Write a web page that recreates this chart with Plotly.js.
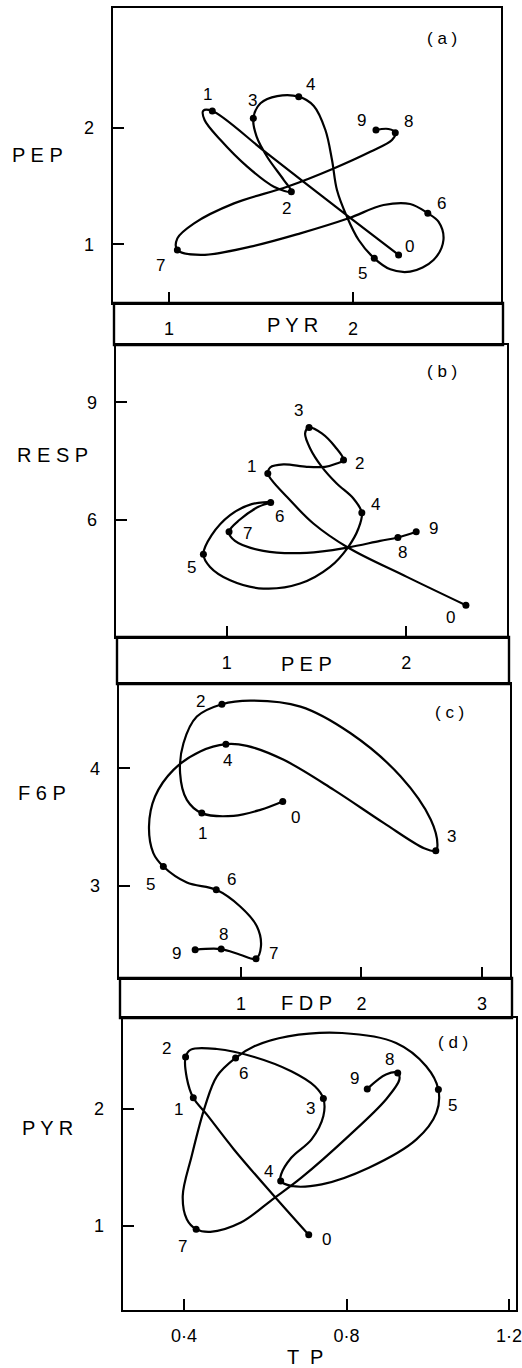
<!DOCTYPE html>
<html>
<head>
<meta charset="utf-8">
<script src="https://cdn.plot.ly/plotly-3.0.1.min.js"></script>
<style>
  html, body { margin: 0; padding: 0; background: #fff; }
  #chart { width: 522px; height: 1368px; }
</style>
</head>
<body>
<div id="chart"></div>
<script>
// Phase plots (a)-(d): labelled time points 0..9 joined by a hand-drawn curve

const pointLabels = ['0', '1', '2', '3', '4', '5', '6', '7', '8', '9'];

// (a) PEP against PYR
const aPtX = [2.248, 1.235, 1.665, 1.458, 1.705, 2.116, 2.407, 1.045, 2.230, 2.125];
const aPtY = [0.909, 2.143, 1.451, 2.080, 2.266, 0.880, 1.266, 0.951, 1.957, 1.980];
const aPathX = [2.248, 1.976, 1.533, 1.235, 1.186, 1.193, 1.280, 1.425, 1.570, 1.665,
    1.624, 1.533, 1.476, 1.458, 1.497, 1.588, 1.705, 1.787, 1.850, 1.886, 1.913, 1.967,
    2.031, 2.116, 2.203, 2.311, 2.438, 2.492, 2.465, 2.407, 2.311, 2.166, 1.976, 1.714,
    1.443, 1.172, 1.045, 1.045, 1.136, 1.353, 1.642, 1.895, 2.094, 2.212, 2.230, 2.193, 2.125];
const aPathY = [0.909, 1.237, 1.780, 2.143, 2.146, 2.066, 1.894, 1.666, 1.494, 1.451,
    1.551, 1.751, 1.923, 2.080, 2.209, 2.271, 2.266, 2.186, 1.980, 1.723, 1.466, 1.237,
    1.037, 0.880, 0.786, 0.766, 0.866, 1.037, 1.194, 1.266, 1.346, 1.337, 1.223, 1.094,
    0.980, 0.909, 0.951, 1.051, 1.180, 1.351, 1.494, 1.651, 1.794, 1.894, 1.957, 1.989, 1.980];

// (b) RESP against PEP
const bPtX = [2.333, 1.229, 1.651, 1.459, 1.753, 0.870, 1.245, 1.013, 1.954, 2.056];
const bPtY = [3.803, 7.179, 7.521, 8.359, 6.171, 5.111, 6.436, 5.684, 5.538, 5.684];
const bPathX = [2.333, 2.004, 1.675, 1.483, 1.335, 1.251, 1.229, 1.242, 1.316, 1.446,
    1.548, 1.613, 1.651, 1.604, 1.530, 1.459, 1.437, 1.465, 1.530, 1.613, 1.706, 1.753,
    1.734, 1.675, 1.576, 1.409, 1.204, 1.019, 0.907, 0.870, 0.916, 1.019, 1.139, 1.245,
    1.177, 1.074, 1.013, 1.046, 1.204, 1.446, 1.675, 1.855, 1.954, 2.056];
const bPathY = [3.803, 4.530, 5.282, 5.897, 6.581, 7.009, 7.179, 7.333, 7.410, 7.350,
    7.350, 7.436, 7.521, 7.863, 8.205, 8.359, 8.205, 7.821, 7.350, 6.923, 6.538, 6.171,
    5.769, 5.282, 4.786, 4.359, 4.231, 4.444, 4.786, 5.111, 5.598, 6.111, 6.393, 6.436,
    6.325, 6.000, 5.684, 5.453, 5.197, 5.145, 5.282, 5.453, 5.538, 5.684];

// (c) F6P against FDP
const cPtX = [1.347, 0.675, 0.842, 2.617, 0.875, 0.356, 0.795, 1.125, 0.836, 0.620];
const cPtY = [3.717, 3.618, 4.544, 3.297, 4.204, 3.164, 2.966, 2.380, 2.462, 2.456];
const cPathX = [1.347, 1.161, 0.939, 0.675, 0.551, 0.495, 0.523, 0.634, 0.842, 1.078,
    1.494, 1.910, 2.326, 2.576, 2.631, 2.617, 2.520, 2.187, 1.771, 1.355, 1.050, 0.875,
    0.662, 0.440, 0.287, 0.237, 0.273, 0.356, 0.551, 0.795, 0.994, 1.133, 1.166, 1.125,
    0.994, 0.836, 0.620];
const cPathY = [3.717, 3.646, 3.595, 3.618, 3.731, 3.958, 4.212, 4.439, 4.544, 4.575,
    4.524, 4.297, 3.929, 3.561, 3.348, 3.297, 3.320, 3.533, 3.816, 4.071, 4.190, 4.204,
    4.142, 3.986, 3.759, 3.504, 3.278, 3.164, 3.028, 2.966, 2.824, 2.654, 2.484, 2.380,
    2.414, 2.462, 2.456];

// (d) PYR against TP
const dPtX = [0.707, 0.423, 0.404, 0.743, 0.638, 1.026, 0.527, 0.430, 0.926, 0.851];
const dPtY = [0.923, 2.094, 2.443, 2.088, 1.384, 2.165, 2.435, 0.972, 2.307, 2.170];
const dPathX = [0.707, 0.618, 0.523, 0.456, 0.423, 0.407, 0.404, 0.417, 0.481, 0.573,
    0.664, 0.722, 0.743, 0.743, 0.714, 0.664, 0.639, 0.638, 0.664, 0.739, 0.855, 0.972,
    1.021, 1.026, 0.996, 0.922, 0.789, 0.656, 0.573, 0.527, 0.481, 0.452, 0.419, 0.397,
    0.407, 0.430, 0.465, 0.540, 0.618, 0.689, 0.805, 0.897, 0.930, 0.926, 0.897, 0.851];
const dPathY = [0.923, 1.270, 1.653, 1.952, 2.094, 2.264, 2.443, 2.506, 2.511, 2.443,
    2.321, 2.193, 2.088, 1.938, 1.739, 1.582, 1.440, 1.384, 1.341, 1.355, 1.497, 1.739,
    1.966, 2.165, 2.364, 2.563, 2.648, 2.619, 2.534, 2.435, 2.278, 2.023, 1.597, 1.256,
    1.057, 0.972, 0.949, 1.028, 1.227, 1.412, 1.767, 2.080, 2.250, 2.307, 2.293, 2.170];

// tick values / labels
const aTicksX = [1, 2], aTicksY = [1, 2];
const bTicksX = [1, 2], bTicksY = [6, 9];
const cTicksX = [1, 2, 3], cTicksY = [3, 4];
const dTicksX = [0.4, 0.8, 1.2], dTickTextX = ['0·4', '0·8', '1·2'], dTicksY = [1, 2];

const W = 522, H = 1368;
const FONT = 'Liberation Sans, Arial, sans-serif';

// pixel boxes of the four frames [left, right, top, bottom]
const boxes = [
    [113, 501, 8, 303],
    [116, 507, 345, 637],
    [119, 510, 684, 978],
    [123, 516, 1018, 1310]
];
const ranges = [
    { x: [0.695, 2.805], y: [0.497, 3.026] },
    { x: [0.383, 2.562], y: [2.99, 10.47] },
    { x: [-0.012, 3.233], y: [2.216, 4.716] },
    { x: [0.250, 1.217], y: [0.281, 2.776] }
];

// label offsets in px (dx right, dy down) for each panel, per point 0..9
const labelShift = [
    [[11, -8], [-5, -16], [-5, 17], [-1, -18], [12, -12], [-12, 15], [14, -10], [-17, 15], [13, -11], [-14, -10]],
    [[-15, 12], [-16, -7], [16, 3], [-11, -17], [14, -8], [-12, 13], [9, 14], [18, 2], [5, 15], [17, -3]],
    [[13, 16], [1, 20], [-21, -3], [16, -14], [2, 16], [-13, 18], [15, -10], [17, -5], [2, -15], [-19, 4]],
    [[18, 5], [-15, 12], [-19, -8], [-13, 10], [-12, -9], [14, 16], [8, 16], [-14, 17], [-8, -13], [-13, -10]]
];

const panels = [
    { px: aPtX, py: aPtY, lx: aPathX, ly: aPathY, tx: aTicksX, ty: aTicksY },
    { px: bPtX, py: bPtY, lx: bPathX, ly: bPathY, tx: bTicksX, ty: bTicksY },
    { px: cPtX, py: cPtY, lx: cPathX, ly: cPathY, tx: cTicksX, ty: cTicksY },
    { px: dPtX, py: dPtY, lx: dPathX, ly: dPathY, tx: dTicksX, ty: dTicksY, ttx: dTickTextX }
];

function px2x(p) { return p / W; }
function py2y(p) { return 1 - p / H; }

const traces = [];
const annotations = [];
const layout = {
    width: W,
    height: H,
    margin: { l: 0, r: 0, t: 0, b: 0 },
    paper_bgcolor: 'white',
    plot_bgcolor: 'white',
    showlegend: false,
    font: { family: FONT, color: 'black' }
};

panels.forEach(function(p, i) {
    const n = i === 0 ? '' : String(i + 1);
    const b = boxes[i];

    traces.push({
        x: p.lx, y: p.ly,
        xaxis: 'x' + n, yaxis: 'y' + n,
        type: 'scatter', mode: 'lines',
        line: { color: 'black', width: 2.2, shape: 'spline', smoothing: 1 },
        hoverinfo: 'skip'
    });
    traces.push({
        x: p.px, y: p.py,
        xaxis: 'x' + n, yaxis: 'y' + n,
        type: 'scatter', mode: 'markers',
        marker: { color: 'black', size: 7 }
    });

    const common = {
        showline: true, mirror: true, linecolor: 'black', linewidth: 2.4,
        ticks: 'inside', ticklen: 11, tickwidth: 2, tickcolor: 'black',
        showgrid: false, zeroline: false,
        ticklabeloverflow: 'allow',
        tickfont: { family: FONT, size: 18, color: 'black' }
    };
    layout['xaxis' + n] = Object.assign({}, common, {
        domain: [px2x(b[0]), px2x(b[1])],
        range: ranges[i].x,
        anchor: 'y' + n,
        tickmode: 'array',
        tickvals: p.tx,
        ticktext: p.ttx ? p.ttx : p.tx.map(String),
        ticklabelstandoff: 8
    });
    layout['yaxis' + n] = Object.assign({}, common, {
        domain: [py2y(b[3]), py2y(b[2])],
        range: ranges[i].y,
        anchor: 'x' + n,
        tickmode: 'array',
        tickvals: p.ty,
        ticktext: p.ty.map(String),
        ticklabelstandoff: 13
    });

    // numbered point labels
    p.px.forEach(function(x, k) {
        annotations.push({
            x: x, y: p.py[k],
            xref: 'x' + n, yref: 'y' + n,
            text: pointLabels[k],
            showarrow: false,
            xshift: labelShift[i][k][0],
            yshift: -labelShift[i][k][1],
            font: { family: FONT, size: 17, color: 'black' }
        });
    });
});

// panel tags and variable names (pixel positions)
const paperText = [
    ['( a )', 442, 38, 17], ['( b )', 442, 372, 17], ['( c )', 449, 712, 17], ['( d )', 453, 1042, 17],
    ['P E P', 37, 155, 20], ['P Y R', 292, 325, 20],
    ['R E S P', 52, 455, 20], ['P E P', 306, 664, 20],
    ['F 6 P', 42, 793, 20], ['F D P', 306, 1003, 20],
    ['P Y R', 47, 1128, 20], ['T  P', 305, 1357, 20]
];
paperText.forEach(function(t) {
    annotations.push({
        x: px2x(t[1]), y: py2y(t[2]), xref: 'paper', yref: 'paper',
        text: t[0], showarrow: false, xanchor: 'center', yanchor: 'middle',
        font: { family: FONT, size: t[3], color: 'black' }
    });
});
layout.annotations = annotations;

// label bands between the panels
layout.shapes = [
    [114, 503, 303, 345],
    [117, 509, 637, 684],
    [120, 512, 978, 1018]
].map(function(r) {
    return {
        type: 'rect', xref: 'paper', yref: 'paper',
        x0: px2x(r[0]), x1: px2x(r[1]), y0: py2y(r[3]), y1: py2y(r[2]),
        line: { color: 'black', width: 2.4 }
    };
});

Plotly.newPlot('chart', traces, layout, { displayModeBar: false, staticPlot: true });
</script>
</body>
</html>
